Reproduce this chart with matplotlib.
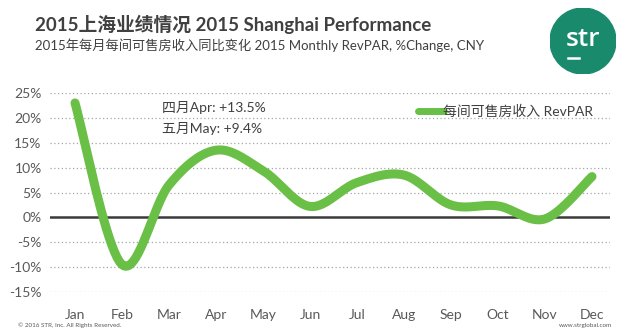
import numpy as np
import matplotlib.pyplot as plt
from matplotlib.patches import Circle

plt.rcParams['font.family'] = ['Lato', 'Noto Sans CJK SC', 'DejaVu Sans']

months = ["Jan", "Feb", "Mar", "Apr", "May", "Jun",
          "Jul", "Aug", "Sep", "Oct", "Nov", "Dec"]
revpar_change = [23.0, -9.5, 6.5, 13.5, 9.4, 2.2, 7.0, 8.5, 2.5, 2.3, -0.3, 8.2]
yticks = [25, 20, 15, 10, 5, 0, -5, -10, -15]

title = "2015上海业绩情况 2015 Shanghai Performance"
subtitle = "2015年每月每间可售房收入同比变化 2015 Monthly RevPAR, %Change, CNY"
series_label = "每间可售房收入 RevPAR"
notes = ["四月Apr: +13.5%", "五月May: +9.4%"]

GREEN = "#6abf47"
GREY = "#595959"


def smooth(x, y, steps=20):
    # Catmull-Rom style smoothing, like Excel's smoothed line
    x = np.asarray(x, float)
    y = np.asarray(y, float)
    px = np.concatenate([[x[0]], x, [x[-1]]])
    py = np.concatenate([[y[0]], y, [y[-1]]])
    xs, ys = [], []
    t = np.linspace(0, 1, steps, endpoint=False)
    for i in range(1, len(px) - 2):
        p0, p1, p2, p3 = (np.array([px[j], py[j]]) for j in range(i - 1, i + 3))
        m1 = (p2 - p0) / 2
        m2 = (p3 - p1) / 2
        h00 = 2 * t**3 - 3 * t**2 + 1
        h10 = t**3 - 2 * t**2 + t
        h01 = -2 * t**3 + 3 * t**2
        h11 = t**3 - t**2
        pts = (np.outer(h00, p1) + np.outer(h10, m1) +
               np.outer(h01, p2) + np.outer(h11, m2))
        xs.extend(pts[:, 0])
        ys.extend(pts[:, 1])
    xs.append(x[-1])
    ys.append(y[-1])
    return np.array(xs), np.array(ys)


fig = plt.figure(figsize=(6.26, 3.34), dpi=100)
ax = fig.add_axes([50 / 626, 1 - 292 / 334, 560 / 626, 199 / 334])

xpos = np.arange(len(months))
for v in yticks:
    if v == 0:
        ax.axhline(0, color="#3a3a3a", lw=1.8, zorder=1)
    else:
        ax.axhline(v, color="#a6a6a6", lw=0.9, ls=(0, (1, 2)), zorder=1)

sx, sy = smooth(xpos, revpar_change)
ax.plot(sx, sy, color=GREEN, lw=6.5, solid_capstyle="round",
        label=series_label, zorder=3, clip_on=False)

ax.set_xlim(-25 / 47, 535 / 47)
ax.set_ylim(-15, 25)
ax.set_xticks(xpos)
ax.set_xticklabels(months)
ax.set_yticks(yticks)
ax.set_yticklabels([f"{v}%" for v in yticks])
ax.tick_params(length=0, labelsize=10, colors=GREY, pad=6)
ax.tick_params(axis="x", pad=12)
for s in ax.spines.values():
    s.set_visible(False)

ax.text(1.85, 22.0, notes[0], fontsize=10, color="#404040", va="center")
ax.text(1.85, 17.8, notes[1], fontsize=10, color="#404040", va="center")

leg = ax.legend(loc="center left", bbox_to_anchor=(0.635, 0.91), frameon=False,
                fontsize=10, handlelength=1.9, handletextpad=-0.1,
                labelcolor="#404040")
for h in leg.get_lines():
    h.set_linewidth(5)

fig.text(35 / 626, 1 - 24 / 334, title, fontsize=13.5, fontweight="bold",
         color="#404040", va="center")
fig.text(35 / 626, 1 - 45 / 334, subtitle, fontsize=9.5, color="#404040",
         va="center")

fig.text(18 / 626, 1 - 325 / 334, "© 2016 STR, Inc. All Rights Reserved.",
         fontsize=4.5, color=GREY, va="center")
fig.text(612 / 626, 1 - 325 / 334, "www.strglobal.com",
         fontsize=4.5, color=GREY, va="center", ha="right")

# logo
lax = fig.add_axes([550 / 626, 1 - 74 / 334, 66 / 626, 66 / 334])
lax.set_xlim(-1, 1)
lax.set_ylim(-1, 1)
lax.set_aspect("equal")
lax.axis("off")
lax.add_patch(Circle((0, 0), 1, color="#1a8a6c"))
lax.text(0, 0.05, "str", color="white", fontsize=19, fontweight="semibold",
         ha="center", va="center", family="Open Sans")
lax.plot([-0.45, -0.12], [-0.5, -0.5], color="white", lw=1.8)

fig.savefig("out.png", dpi=100)
